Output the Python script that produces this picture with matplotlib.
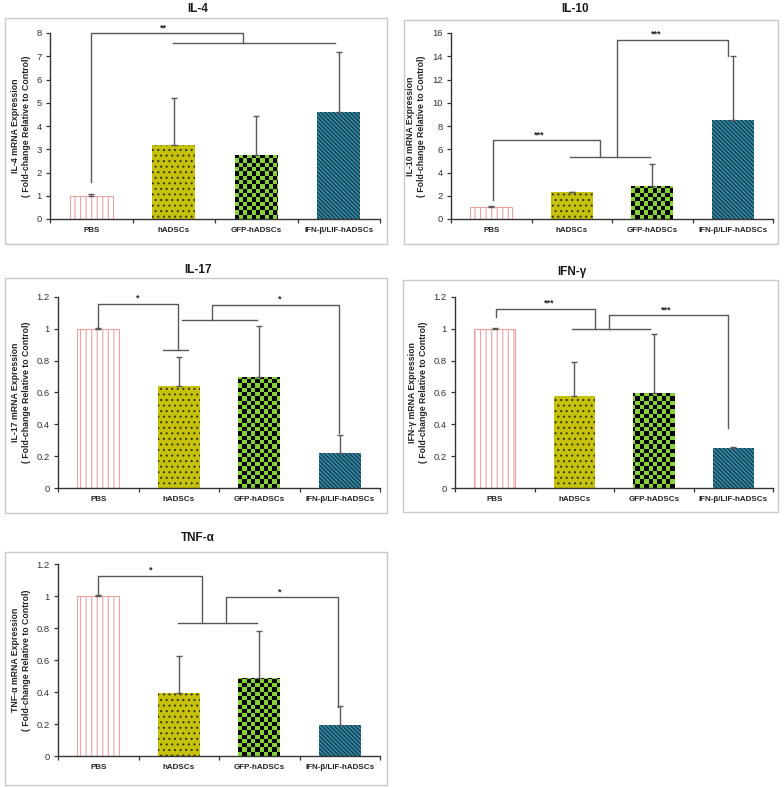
import numpy as np
import matplotlib
matplotlib.use('Agg')
import matplotlib.pyplot as plt
from matplotlib.patches import Rectangle

plt.rcParams['font.family'] = ['Liberation Sans', 'DejaVu Sans']
plt.rcParams['hatch.linewidth'] = 0.8

# ------------------------------------------------------------------
# Data
# ------------------------------------------------------------------
GROUPS = ['PBS', 'hADSCs', 'GFP-hADSCs', 'IFN-β/LIF-hADSCs']

il4_mean  = [1.00, 3.20, 2.75, 4.62]
il4_err   = [0.08, 2.00, 1.67, 2.55]
il10_mean = [1.00, 2.30, 2.80, 8.55]
il10_err  = [0.10, 0.06, 1.95, 5.45]
il17_mean = [1.00, 0.64, 0.70, 0.22]
il17_err  = [0.006, 0.18, 0.32, 0.11]
ifng_mean = [1.00, 0.58, 0.60, 0.25]
ifng_err  = [0.006, 0.21, 0.37, 0.01]
tnfa_mean = [1.00, 0.395, 0.485, 0.195]
tnfa_err  = [0.006, 0.23, 0.295, 0.12]

# bracket: (x_left, y_left_end, y_top, x_right, y_right_end, stars, x_star)
il4_brackets  = [(0.0, 1.6, 8.0, 1.84, 7.57, '**', 0.87)]
il4_groups    = [(0.99, 2.95, 7.57)]
il10_brackets = [(0.02, 1.63, 6.77, 1.35, 5.34, '***', 0.60),
                 (1.56, 5.34, 15.43, 2.94, 14.06, '***', 2.05)]
il10_groups   = [(0.98, 1.97, 5.34)]
il17_brackets = [(0.0, 1.006, 1.159, 0.985, 0.87, '*', 0.49),
                 (1.41, 1.054, 1.152, 2.985, 0.344, '*', 2.25)]
il17_groups   = [(1.04, 1.97, 1.054), (0.80, 1.12, 0.87)]
ifng_brackets = [(0.015, 1.075, 1.127, 1.26, 1.0, '***', 0.69),
                 (1.44, 1.0, 1.085, 2.93, 0.376, '***', 2.16)]
ifng_groups   = [(0.97, 1.95, 1.0)]
tnfa_brackets = [(0.0, 1.008, 1.127, 1.295, 0.83, '*', 0.65),
                 (1.585, 0.83, 0.991, 2.98, 0.309, '*', 2.25)]
tnfa_groups   = [(0.99, 1.97, 0.83)]

# ------------------------------------------------------------------
# Style
# ------------------------------------------------------------------
W, H = 784, 787
LINE = '#595959'
AXC = '#333333'

fig = plt.figure(figsize=(W / 100, H / 100), dpi=100)


def fbox(x0, y0, x1, y1):
    # pixel box (top-left origin) -> figure fraction rect
    return [x0 / W, 1 - y1 / H, (x1 - x0) / W, (y1 - y0) / H]


def panel(ax_px, frame_px, title, title_xy, ylab, means, errs, ymax, ystep,
          brackets, groups):
    fr = fbox(*frame_px)
    fig.add_artist(Rectangle((fr[0], fr[1]), fr[2], fr[3], transform=fig.transFigure,
                             fill=False, edgecolor='#c9c9c9', lw=1.0))
    fig.text(title_xy[0] / W, 1 - title_xy[1] / H, title, ha='center', va='center',
             fontsize=8.5, fontweight='bold', color='#1a1a1a')

    ax = fig.add_axes(fbox(*ax_px))
    x = np.arange(len(GROUPS))
    bw = 0.52

    # PBS: white with pink vertical stripes
    ax.bar(x[0], means[0], bw, facecolor='white', edgecolor='#eaa3a3',
           hatch='|||', lw=0.8, zorder=2)
    # hADSCs: olive with dark dots
    ax.bar(x[1], means[1], bw, facecolor='#c6c20c', edgecolor='none', zorder=2)
    ax.bar(x[1], means[1], bw, facecolor='none', edgecolor='#3a3a1a', hatch='...',
           lw=0, zorder=2)
    # GFP-hADSCs: green/black checkerboard
    gfp = ax.bar(x[2], means[2], bw, facecolor='#88d03a', edgecolor='none', zorder=2)[0]
    # IFN-b/LIF: teal with dark diagonal stripes
    ax.bar(x[3], means[3], bw, facecolor='#2f88a6', edgecolor='none', zorder=2)
    ax.bar(x[3], means[3], bw, facecolor='none', edgecolor='#17323d', hatch='\\' * 8,
           lw=0, zorder=2)

    # checkerboard image covering the axes, clipped to the GFP bar
    pos = ax.get_position()
    cell = 4.3
    nx = int(round(pos.width * W / cell))
    ny = int(round(pos.height * H / cell))
    checker = (np.indices((ny, nx)).sum(axis=0) % 2).astype(float)
    im = ax.imshow(checker, cmap=matplotlib.colors.ListedColormap(['#88d03a', '#050505']),
                   extent=(0, 1, 0, 1), transform=ax.transAxes, aspect='auto',
                   interpolation='nearest', zorder=2.5)
    im.set_clip_path(gfp)

    ax.errorbar(x, means, yerr=[np.zeros(len(means)), errs], fmt='none',
                ecolor=LINE, elinewidth=1.0, capsize=2.2, capthick=1.0, zorder=3)

    # significance brackets
    for (xl, yl, yt, xr, yr, st, xs) in brackets:
        ax.plot([xl, xl, xr, xr], [yl, yt, yt, yr], color=LINE, lw=1.0,
                clip_on=False, zorder=4)
        ax.annotate(st, (xs, yt), xytext=(0, 0.5), textcoords='offset points',
                    ha='center', va='bottom', fontsize=6.5, color='#222222',
                    fontweight='bold', annotation_clip=False)
    for (x0, x1, y) in groups:
        ax.plot([x0, x1], [y, y], color=LINE, lw=1.0, clip_on=False, zorder=4)

    ax.set_xlim(-0.5, 3.5)
    ax.set_ylim(0, ymax)
    yt = np.arange(0, ymax + ystep / 2, ystep)
    ax.set_yticks(yt)
    ax.set_yticklabels(['%g' % round(v, 2) for v in yt], fontsize=6.8, color='#333333')
    ax.set_xticks(x)
    ax.set_xticklabels(GROUPS, fontsize=5.8, fontweight='bold', color='#222222')
    ax.set_xticks(np.arange(-0.5, 3.6, 1.0), minor=True)
    ax.tick_params(axis='x', which='major', length=0, pad=6)
    ax.tick_params(axis='x', which='minor', length=3, width=0.9, color=AXC, direction='out')
    ax.tick_params(axis='y', length=3, width=0.9, color=AXC, pad=3)
    for s in ['top', 'right']:
        ax.spines[s].set_visible(False)
    for s in ['left', 'bottom']:
        ax.spines[s].set_color(AXC)
        ax.spines[s].set_linewidth(1.0)
    ax.set_facecolor('none')
    ax.set_ylabel(ylab + '\n( Fold-change Relative to Control)', fontsize=6.3,
                  fontweight='bold', color='#222222', labelpad=4, linespacing=1.3)
    return ax


panel((50, 33, 380, 219), (5, 18, 387, 244), 'IL-4', (198, 9),
      'IL-4 mRNA Expression', il4_mean, il4_err, 8, 1, il4_brackets, il4_groups)
panel((451, 33, 773, 219), (404, 20, 778, 244), 'IL-10', (575, 9),
      'IL-10 mRNA Expression', il10_mean, il10_err, 16, 2, il10_brackets, il10_groups)
panel((58, 297, 380, 488), (5, 278, 387, 513), 'IL-17', (198, 270),
      'IL-17 mRNA Expression', il17_mean, il17_err, 1.2, 0.2, il17_brackets, il17_groups)
panel((455, 297, 773, 488), (403, 280, 778, 512), 'IFN-γ', (572, 272),
      'IFN-γ mRNA Expression', ifng_mean, ifng_err, 1.2, 0.2, ifng_brackets, ifng_groups)
panel((58, 564, 380, 756), (5, 552, 387, 785), 'TNF-α', (198, 538),
      'TNF-α mRNA Expression', tnfa_mean, tnfa_err, 1.2, 0.2, tnfa_brackets, tnfa_groups)

plt.savefig('out.png', dpi=100)
plt.close()
